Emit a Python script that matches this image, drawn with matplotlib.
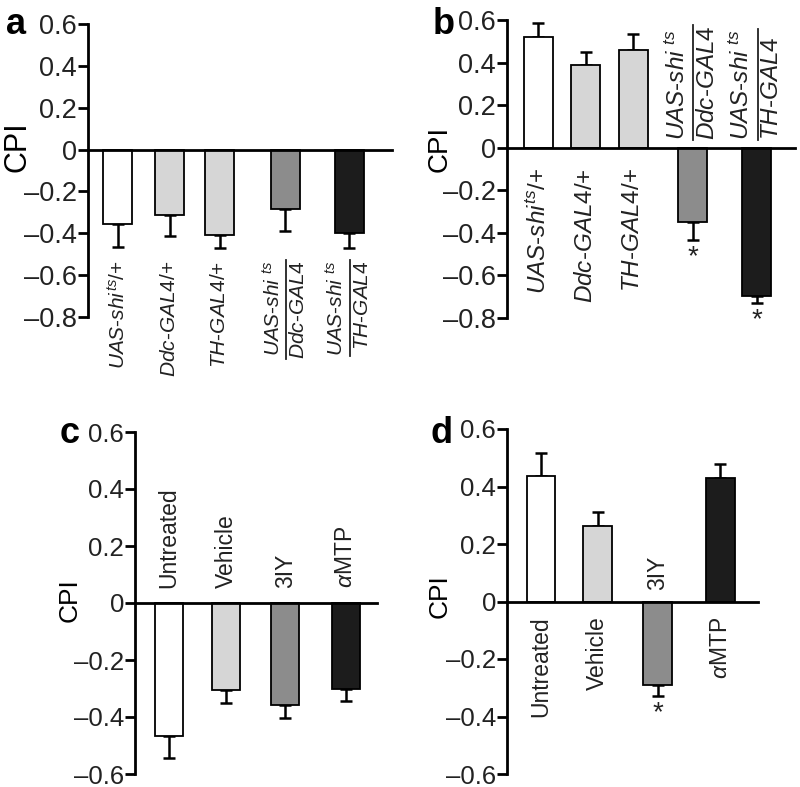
import matplotlib
matplotlib.use("Agg")
import matplotlib.pyplot as plt
from matplotlib.lines import Line2D
from matplotlib.transforms import IdentityTransform

plt.rcParams['font.family'] = ['Liberation Sans', 'DejaVu Sans']
plt.rcParams['mathtext.fontset'] = 'custom'
plt.rcParams['mathtext.rm'] = 'Liberation Sans'
plt.rcParams['mathtext.it'] = 'Liberation Sans:italic'
plt.rcParams['mathtext.bf'] = 'Liberation Sans:bold'
plt.rcParams['text.color'] = '#222222'

W, H = 800, 787

# ---- data ----
# plain labels are strings, fraction labels are (numerator, denominator)
a_labels = [r'$\mathit{UAS\text{-}shi}^{ts}\text{/+}$',
            r'$\mathit{Ddc\text{-}GAL4}\text{/+}$',
            r'$\mathit{TH\text{-}GAL4}\text{/+}$',
            (r'$\mathit{UAS\text{-}shi}^{\ ts}$', r'$\mathit{Ddc\text{-}GAL4}$'),
            (r'$\mathit{UAS\text{-}shi}^{\ ts}$', r'$\mathit{TH\text{-}GAL4}$')]
a_cpi = [-0.357, -0.311, -0.406, -0.286, -0.397]
a_sem = [0.108, 0.103, 0.064, 0.103, 0.073]

b_labels = a_labels
b_cpi = [0.519, 0.387, 0.461, -0.350, -0.696]
b_sem = [0.065, 0.063, 0.072, 0.083, 0.032]
b_sig = [False, False, False, True, True]

cd_labels = ['Untreated', 'Vehicle', '3IY', r'$\alpha$MTP']
c_cpi = [-0.468, -0.304, -0.359, -0.302]
c_sem = [0.076, 0.047, 0.045, 0.043]

d_cpi = [0.438, 0.263, -0.290, 0.430]
d_sem = [0.079, 0.048, 0.039, 0.049]
d_sig = [False, False, True, False]

geno_colors = ['white', '#d6d6d6', '#d6d6d6', '#8c8c8c', '#1c1c1c']
drug_colors = ['white', '#d6d6d6', '#8c8c8c', '#1c1c1c']

fractions = []


def px_axes(fig, left, right, top, bottom):
    return fig.add_axes([left / W, 1 - bottom / H, (right - left) / W, (bottom - top) / H])


def tick_text(t):
    if t == 0:
        return '0'
    return ('%.1f' % t).replace('-', '\u2013')


def panel(ax, pos, vals, sem, colors, width, xlim, ylim, yticks, tickfs, ylabfs, labxy):
    ax.bar(pos, vals, width=width, color=colors, edgecolor='black', linewidth=1.3, zorder=3)
    lo = [s if v < 0 else 0 for v, s in zip(vals, sem)]
    hi = [s if v >= 0 else 0 for v, s in zip(vals, sem)]
    ax.errorbar(pos, vals, yerr=[lo, hi], fmt='none', ecolor='black',
                elinewidth=1.8, capsize=4.5, capthick=1.8, zorder=2)
    ax.axhline(0, color='black', lw=2, zorder=4, clip_on=False)
    ax.set_xlim(*xlim)
    ax.set_ylim(*ylim)
    ax.set_yticks(yticks)
    ax.set_yticklabels([tick_text(t) for t in yticks])
    ax.set_xticks([])
    for s in ['top', 'right', 'bottom']:
        ax.spines[s].set_visible(False)
    ax.spines['left'].set_linewidth(2)
    ax.tick_params(axis='y', length=7, width=2, pad=1, labelsize=tickfs,
                   labelcolor='#222222')
    ax.patch.set_alpha(0)
    ax.set_ylabel('CPI', fontsize=ylabfs)
    ax.yaxis.set_label_coords(*labxy)


def labels(ax, pos, texts, ys, fs):
    for x, t, y in zip(pos, texts, ys):
        va = 'top' if y < 0 else 'bottom'
        if isinstance(t, tuple):
            dx = fs * 0.62
            num = ax.annotate(t[0], (x, y), xytext=(-dx, 0), textcoords='offset points',
                              rotation=90, ha='center', va=va, fontsize=fs,
                              annotation_clip=False)
            den = ax.annotate(t[1], (x, y), xytext=(dx, 0), textcoords='offset points',
                              rotation=90, ha='center', va=va, fontsize=fs,
                              annotation_clip=False)
            fractions.append((num, den))
        else:
            ax.text(x, y, t, rotation=90, ha='center', va=va, fontsize=fs, clip_on=False)


def stars(ax, pos, vals, sem, sig):
    for x, v, s, g in zip(pos, vals, sem, sig):
        if g:
            ax.annotate('*', (x, v - s), xytext=(0, -3), textcoords='offset points',
                        ha='center', va='top', fontsize=20)


fig = plt.figure(figsize=(W / 100, H / 100), dpi=100)

# a
pos_a = [0, 1.02, 2, 3.29, 4.54]
ax = px_axes(fig, 88, 392, 24, 317)
panel(ax, pos_a, a_cpi, a_sem, geno_colors, 0.57, (-0.58, 5.38), (-0.8, 0.6),
      [0.6, 0.4, 0.2, 0, -0.2, -0.4, -0.6, -0.8], 19.5, 22, (-0.184, 0.58))
labels(ax, pos_a, a_labels, [-0.53] * 5, 15)

# b
pos_b = [0, 1, 2, 3.25, 4.6]
ax = px_axes(fig, 507, 795, 20, 318)
panel(ax, pos_b, b_cpi, b_sem, geno_colors, 0.61, (-0.66, 5.4), (-0.8, 0.6),
      [0.6, 0.4, 0.2, 0, -0.2, -0.4, -0.6, -0.8], 19.5, 20, (-0.19, 0.567))
labels(ax, pos_b, b_labels, [-0.094, -0.094, -0.094, 0.038, 0.038], 17.5)
stars(ax, pos_b, b_cpi, b_sem, b_sig)

# c
pos_c = [0, 0.97, 1.97, 3]
ax = px_axes(fig, 135, 377, 432, 774)
panel(ax, pos_c, c_cpi, c_sem, drug_colors, 0.47, (-0.58, 3.53), (-0.6, 0.6),
      [0.6, 0.4, 0.2, 0, -0.2, -0.4, -0.6], 18.5, 19, (-0.219, 0.509))
labels(ax, pos_c, cd_labels, [0.054] * 4, 16.5)

# d
pos_d = [0, 0.95, 1.95, 3]
ax = px_axes(fig, 507, 758, 429, 774)
panel(ax, pos_d, d_cpi, d_sem, drug_colors, 0.48, (-0.57, 3.63), (-0.6, 0.6),
      [0.6, 0.4, 0.2, 0, -0.2, -0.4, -0.6], 18.5, 19, (-0.219, 0.516))
labels(ax, pos_d, cd_labels, [-0.052, -0.052, 0.04, -0.052], 16.5)
stars(ax, pos_d, d_cpi, d_sem, d_sig)

# panel letters
for t, x, y in [('a', 6, 34), ('b', 433, 34), ('c', 60, 443), ('d', 431, 443)]:
    fig.text(x / W, 1 - y / H, t, fontsize=26, fontweight='bold', ha='left', va='baseline',
             color='black')

# fraction bars between numerator and denominator
fig.canvas.draw()
r = fig.canvas.get_renderer()
for num, den in fractions:
    bn = num.get_window_extent(r)
    bd = den.get_window_extent(r)
    xl = (bn.x1 + bd.x0) / 2
    y0 = min(bn.y0, bd.y0)
    y1 = max(bn.y1, bd.y1)
    fig.add_artist(Line2D([xl, xl], [y0, y1], transform=IdentityTransform(),
                          color='#222222', lw=1.3))

fig.savefig('out.png', dpi=100)
